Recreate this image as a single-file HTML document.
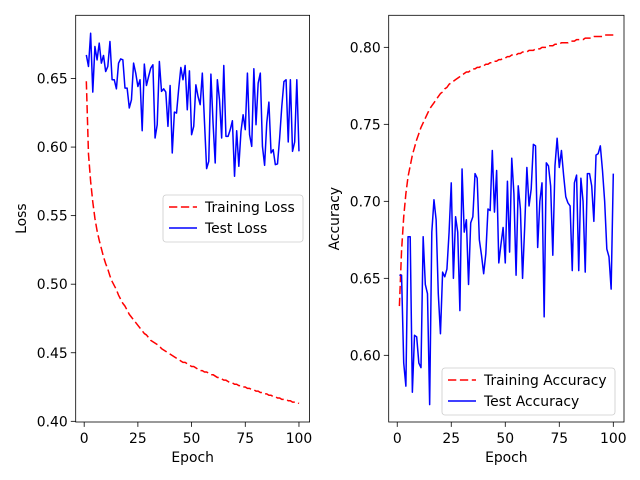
<!DOCTYPE html>
<html><head><meta charset="utf-8"><style>
body{margin:0;background:#fff;}
svg{display:block;font-family:"DejaVu Sans","Liberation Sans",sans-serif;}
</style></head><body>
<svg id="chart" width="640" height="480" viewBox="0 0 640 480" xmlns="http://www.w3.org/2000/svg"></svg>
<script>
const epochs = Array.from({length:100},(_,i)=>i+1);
const trainLoss = [0.648,0.595,0.575,0.560,0.548,0.539,0.532,0.526,0.520,0.515,
0.511,0.506,0.502,0.499,0.496,0.492,0.489,0.486,0.484,0.481,
0.478,0.476,0.474,0.472,0.470,0.468,0.466,0.464,0.463,0.461,
0.459,0.458,0.457,0.456,0.455,0.453,0.452,0.451,0.450,0.449,
0.448,0.447,0.446,0.445,0.444,0.443,0.443,0.442,0.441,0.440,
0.440,0.439,0.438,0.437,0.437,0.436,0.436,0.435,0.434,0.434,
0.433,0.432,0.432,0.431,0.430,0.430,0.429,0.428,0.428,0.427,
0.427,0.426,0.426,0.425,0.425,0.424,0.424,0.423,0.423,0.422,
0.422,0.421,0.421,0.420,0.420,0.419,0.419,0.418,0.418,0.417,
0.417,0.416,0.416,0.416,0.415,0.415,0.414,0.414,0.414,0.413];
const testLoss = [0.6672,0.6588,0.6830,0.6401,0.6733,0.6636,0.6758,0.6612,0.6668,0.6551,
0.6588,0.6770,0.6491,0.6491,0.6425,0.6612,0.6643,0.6636,0.6430,0.6430,
0.6285,0.6345,0.6612,0.6539,0.6442,0.6491,0.6119,0.6605,0.6449,0.6515,
0.6576,0.6600,0.6066,0.6163,0.6624,0.6406,0.6425,0.6401,0.6151,0.6449,
0.5957,0.6255,0.6248,0.6425,0.6580,0.6491,0.6595,0.6272,0.6556,0.6090,
0.6151,0.6454,0.6369,0.6309,0.6539,0.6187,0.5843,0.5896,0.6532,0.6175,
0.5884,0.6491,0.6345,0.6066,0.6595,0.6078,0.6078,0.6127,0.6192,0.5787,
0.6119,0.5860,0.6114,0.6236,0.6127,0.6539,0.6090,0.6005,0.6571,0.6163,
0.6466,0.6539,0.6005,0.5867,0.6175,0.6328,0.5957,0.5981,0.5872,0.5877,
0.6066,0.6296,0.6478,0.6491,0.6037,0.6491,0.5969,0.6037,0.6491,0.5969];
const trainAcc = [0.632,0.668,0.690,0.705,0.716,0.723,0.730,0.735,0.740,0.744,
0.748,0.751,0.754,0.757,0.760,0.762,0.764,0.766,0.768,0.770,
0.771,0.773,0.774,0.776,0.777,0.778,0.779,0.780,0.781,0.782,
0.783,0.784,0.784,0.785,0.786,0.786,0.787,0.787,0.788,0.788,
0.789,0.789,0.790,0.790,0.791,0.791,0.792,0.792,0.793,0.793,
0.794,0.794,0.795,0.795,0.795,0.796,0.796,0.797,0.797,0.797,
0.798,0.798,0.798,0.799,0.799,0.799,0.800,0.800,0.800,0.801,
0.801,0.801,0.802,0.802,0.802,0.803,0.803,0.803,0.803,0.804,
0.804,0.804,0.805,0.805,0.805,0.805,0.806,0.806,0.806,0.806,
0.807,0.807,0.807,0.807,0.807,0.808,0.808,0.808,0.808,0.808];
const testAcc = [0.652,0.652,0.595,0.580,0.677,0.677,0.576,0.613,0.612,0.595,
0.592,0.677,0.646,0.640,0.568,0.680,0.701,0.688,0.640,0.614,
0.654,0.651,0.656,0.680,0.712,0.650,0.690,0.680,0.629,0.721,
0.680,0.688,0.646,0.686,0.690,0.718,0.715,0.675,0.665,0.653,
0.666,0.695,0.694,0.733,0.693,0.720,0.660,0.672,0.683,0.660,
0.713,0.667,0.728,0.705,0.652,0.710,0.695,0.650,0.684,0.722,
0.697,0.708,0.737,0.736,0.670,0.700,0.712,0.625,0.725,0.723,
0.710,0.665,0.723,0.741,0.722,0.733,0.717,0.703,0.699,0.697,
0.655,0.712,0.717,0.655,0.715,0.700,0.654,0.718,0.718,0.710,
0.687,0.730,0.731,0.736,0.720,0.700,0.669,0.664,0.643,0.718];
const lossTicks = [0.40,0.45,0.50,0.55,0.60,0.65];
const accTicks = [0.60,0.65,0.70,0.75,0.80];
const xTicks = [0,25,50,75,100];

const NS='http://www.w3.org/2000/svg';
const svg=document.getElementById('chart');
const FS='13.9px';
function mk(tag,attrs,parent){const e=document.createElementNS(NS,tag);for(const k in attrs)e.setAttribute(k,attrs[k]);(parent||svg).appendChild(e);return e;}

function panel(p){
  const g=mk('g',{});
  
  
  const sx=v=>p.x0+(v-p.xmin)/(p.xmax-p.xmin)*(p.x1-p.x0);
  const sy=v=>p.y1-(v-p.ymin)/(p.ymax-p.ymin)*(p.y1-p.y0);
  p.series.forEach(s=>{
    const d=epochs.map((e,i)=>(i?'L':'M')+sx(e).toFixed(2)+','+sy(s.data[i]).toFixed(2)).join(' ');
    const path=mk('path',{d:d,fill:'none',stroke:s.color,'stroke-width':1.5,'stroke-dasharray':s.dash||'none','stroke-linejoin':'round'},g);
    
    
  });
  const fr=mk('rect',{x:p.x0,y:p.y0,width:p.x1-p.x0,height:p.y1-p.y0,fill:'none',stroke:'#000','stroke-width':0.8},g);
  
  
  xTicks.forEach(t=>{
    const x=sx(t);
    mk('line',{x1:x,x2:x,y1:p.y1,y2:p.y1+4.9,stroke:'#000','stroke-width':0.8},g);
    const tx=mk('text',{x:x,y:p.y1+21,'font-size':FS,'text-anchor':'middle',fill:'#000'},g);
    tx.textContent=t;
    
    
  });
  p.yticks.forEach(t=>{
    const y=sy(t);
    mk('line',{x1:p.x0-4.9,x2:p.x0,y1:y,y2:y,stroke:'#000','stroke-width':0.8},g);
    const tx=mk('text',{x:p.x0-8,y:y+5,'font-size':FS,'text-anchor':'end',fill:'#000'},g);
    tx.textContent=t.toFixed(2);
    
    
  });
  const xl=mk('text',{x:(p.x0+p.x1)/2,y:462,'font-size':FS,'text-anchor':'middle'},g);
  xl.textContent='Epoch';
  
  
  const yl=mk('text',{x:0,y:0,'font-size':FS,'text-anchor':'middle',transform:`translate(${p.ylx},${(p.y0+p.y1)/2}) rotate(-90)`},g);
  yl.textContent=p.ylabel;
  
  
  const L=p.legend;
  const lg=mk('g',{},g);
  
  
  mk('rect',{x:L.x,y:L.y,width:L.w,height:47,rx:3,fill:'#fff','fill-opacity':0.8,stroke:'#ccc','stroke-width':0.8},lg);
  p.series.forEach((s,i)=>{
    const yy=L.y+12+i*21;
    mk('line',{x1:L.x+6,x2:L.x+34,y1:yy,y2:yy,stroke:s.color,'stroke-width':1.5,'stroke-dasharray':s.dash||'none'},lg);
    const t=mk('text',{x:L.x+42,y:yy+5,'font-size':FS},lg);
    t.textContent=s.label;
    
    
  });
}

panel({name:'loss-panel',x0:75.7,x1:309.6,y0:15.3,y1:422,xmin:-3.95,xmax:104.95,ymin:0.3995,ymax:0.6961,
  yticks:lossTicks,ylabel:'Loss',ylx:26,legend:{x:163,y:195,w:140},
  series:[{key:'training-loss-line',label:'Training Loss',data:trainLoss,color:'#ff0000',dash:'8.3,3.6'},
          {key:'test-loss-line',label:'Test Loss',data:testLoss,color:'#0000ff'}]});
panel({name:'accuracy-panel',x0:388.7,x1:624,y0:15.3,y1:422,xmin:-3.95,xmax:104.95,ymin:0.5567,ymax:0.8208,
  yticks:accTicks,ylabel:'Accuracy',ylx:339,legend:{x:442,y:368,w:173},
  series:[{key:'training-accuracy-line',label:'Training Accuracy',data:trainAcc,color:'#ff0000',dash:'8.3,3.6'},
          {key:'test-accuracy-line',label:'Test Accuracy',data:testAcc,color:'#0000ff'}]});
</script>
</body></html>
